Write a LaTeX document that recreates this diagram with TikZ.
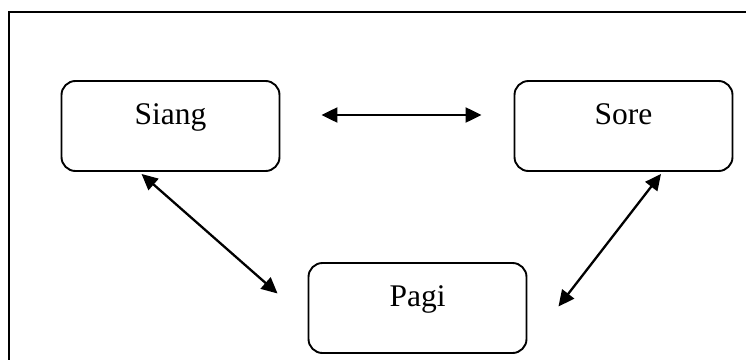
\documentclass[tikz,border=0pt]{standalone}
\usepackage{fontspec}
\setmainfont{Liberation Serif}
\usetikzlibrary{arrows.meta}

\tikzset{
  stagebox/.style={draw, line width=1.9pt, rounded corners=14pt,
    minimum width=218pt, minimum height=90pt, inner sep=0pt,
    text height=43pt, text depth=47pt,
    font=\fontsize{31.5}{31.5}\selectfont},
  link/.style={line width=2.3pt,
    {Triangle[length=16pt,width=15pt]}-{Triangle[length=16pt,width=15pt]}}
}

\begin{document}
\begin{tikzpicture}[x=1pt,y=-1pt]
  \useasboundingbox (0,0) rectangle (746,359);
  \begin{scope}
    \clip (0,0) rectangle (746,359);
    % outer frame, running off the right and bottom edges
    \draw[line width=2pt] (760,12) -- (9,12) -- (9,375);
  \end{scope}

  \node[stagebox] (siang) at (170.5,126) {Siang};
  \node[stagebox] (sore)  at (623.5,126) {Sore};
  \node[stagebox] (pagi)  at (417.5,308) {Pagi};

  \draw[link] ([xshift=41pt,yshift=11pt]siang.east) -- ([xshift=-32pt,yshift=11pt]sore.west);
  \draw[link] ([xshift=81pt,yshift=-2pt]siang.south west) -- ([xshift=-30pt,yshift=14.5pt]pagi.west);
  \draw[link] ([xshift=37.5pt,yshift=-2pt]sore.south) -- ([xshift=31pt,yshift=1.5pt]pagi.east);
\end{tikzpicture}
\end{document}
